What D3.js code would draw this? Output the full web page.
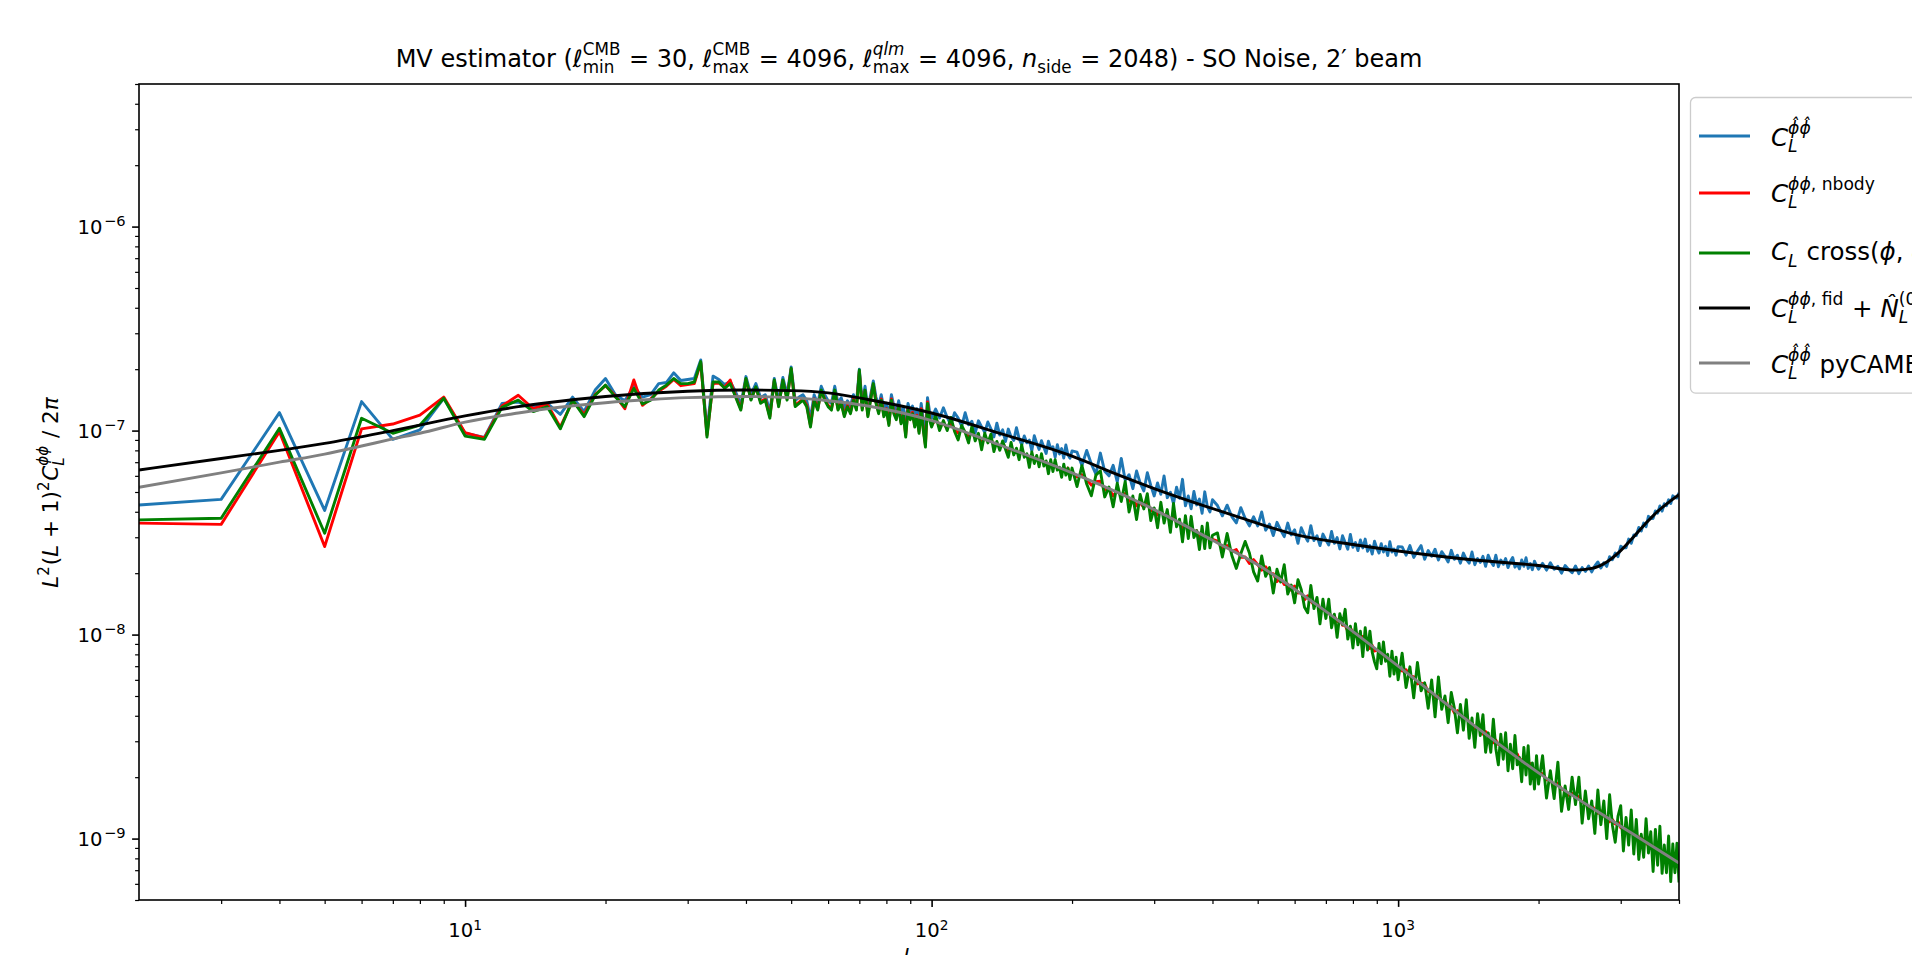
<!DOCTYPE html>
<html>
<head>
<meta charset="utf-8">
<script src="https://cdn.jsdelivr.net/npm/d3@7"></script>
<style>
  html, body { margin: 0; padding: 0; background: #ffffff; overflow: hidden; }
  svg { display: block; font-family: "DejaVu Sans", sans-serif; }
  svg text { white-space: pre; }
</style>
</head>
<body>
<svg id="chart" width="1912" height="955"></svg>
<script>
// Multipole sampling of the spectra: [first L, last L, step]
const ellSegments = [[2, 100, 1], [102, 200, 2], [205, 400, 5], [410, 1000, 10], [1020, 2000, 20], [2040, 4000, 40]];

// All spectra in units of 1e-9 for L^2 (L+1)^2 C_L / 2pi
const UNIT = 1e-9;

// Reconstructed auto-spectrum C_L^{phi-hat phi-hat}
const clHatAuto = [
  43.2, 46, 122.5, 40.6, 138.7, 90.6, 100.7, 144, 97, 92.7, 136, 138,
  130, 136, 120, 146, 124, 158, 180, 150, 140, 165,
  146, 150, 170, 172, 192, 176, 178, 180, 222, 100,
  185, 178, 168, 174, 155, 134, 184, 150, 170, 145,
  150, 124, 180, 140, 182, 150, 205, 140, 146, 150,
  140, 115, 150, 135, 165, 150, 140, 136, 165, 136,
  145, 128, 140, 132, 150, 136, 200, 136, 165, 128,
  150, 175, 146, 132, 150, 128, 136, 118, 150, 132,
  124, 140, 120, 130, 106, 136, 124, 132, 116, 128,
  110, 136, 113, 96, 145, 124, 115,
  127.6, 115.4, 129.3, 116, 106.6, 122.3, 115.2, 105, 122.3, 106.8, 111, 97.1, 111.7, 104.3, 98.1, 110.2, 102.1, 93.1, 108.8, 95.1,
  100.8, 88.4, 101.7, 93.3, 89.5, 103.3, 91.5, 85.2, 94.2, 87.1, 89.8, 79.6, 94.3, 86.6, 80.8, 89.3, 82.8, 77.2, 88.8, 81.6,
  83.4, 74, 85.3, 76.8, 81.7, 73.3, 85, 76.1, 73.2, 79.5,
  78.4, 67.4, 79.9, 68.6, 61.2, 77.6, 63.2, 60.0, 67.6, 56.0, 73.1, 57.1, 60.8, 51.9, 63.4, 55.2, 50.6, 62.2, 53.9, 47.8,
  55.4, 48.7, 60.0, 46.9, 49.8, 43.9, 52.8, 46.6, 57.7, 42.8, 47.8, 41.4, 50.3, 43.2, 46.2, 39.3, 50.1, 42.4, 39.9, 45.8,
  42.9, 38.2, 43.1, 37.9, 35.3, 41.9, 37.2, 34.1, 37.8, 34.1, 39.9, 32.5, 34.8, 30.6, 35.5, 32.5, 30.2, 35.2, 30.8, 32.6,
  28.0, 33.4, 30.7, 28.7, 34.2, 28.9, 30.5, 27.3, 31.1, 29.1, 27.5, 32.0, 28.0, 29.9, 26.3, 30.5, 28.3, 26.2, 31.0, 26.8,
  28.3, 25.8, 29.1, 26.6, 29.4, 25.6, 27.3, 24.8, 28.7, 26.5, 25.1, 27.9, 25.4, 27.1, 24.4, 28.5, 25.4, 26.3, 24.5, 27.0,
  26.9, 24.5, 27.3, 23.9, 25.6, 27.3, 23.4, 25.8, 24.2, 26.2, 23.2, 25.5, 24.2, 22.7, 25.9, 23.4, 24.5, 22.4, 25.1, 23.4,
  22.4, 25.4, 22.0, 23.6, 22.6, 24.2, 21.6, 24.5, 22.8, 21.8, 24.5, 21.5, 23.2, 22.1, 23.6, 21.3, 22.8, 23.9, 21.4, 22.2,
  21.0, 23.2, 21.6, 23.8, 21.1, 22.3, 20.8, 22.9, 21.8, 20.9,
  22.35, 20.7, 22.5, 20.9, 21.6, 20.0, 21.8, 20.85, 20.1, 21.7, 19.9, 21.3, 20.4, 21.7, 20.3, 21.7, 22.7, 21.2, 22.5, 21.6,
  24.1, 23.3, 25.1, 24.1, 27.1, 26.6, 26.6, 29.4, 28.0, 30.8, 30.6, 33.5, 32.2, 35.2, 33.8, 38.0, 37.2, 37.1, 40.4, 39.4,
  42.7, 40.3, 43.8, 42.8, 45.8, 43.9, 47.9, 46.9, 46.7, 49.5
];

// Input (N-body) lensing potential spectrum
const clInputNbody = [
  35.2, 34.7, 98.8, 27, 102, 107.7, 119, 146, 97.7, 92, 132, 149,
  128, 135, 104, 140, 120, 150, 166, 148, 128, 177,
  133, 143, 156, 165, 178, 166, 168, 170, 215, 95,
  170, 171, 163, 177, 148, 128, 178, 143, 162, 139,
  143, 117, 175, 133, 175, 143, 200, 133, 138, 143,
  133, 106, 143, 128, 156, 143, 133, 128, 156, 128,
  138, 119, 133, 123, 143, 128, 195, 128, 156, 119,
  143, 168, 138, 123, 143, 119, 128, 108, 143, 123,
  115, 133, 110, 121, 95, 128, 115, 123, 106, 119,
  99, 128, 102, 85, 138, 115, 106,
  113.3, 106.8, 108.1, 102.8, 108.2, 102, 97.4, 102, 98, 93.6, 98.4, 92.1, 93.9, 86.9, 92.3, 88.6, 91.5, 84.4, 86, 83.3,
  86.5, 82.2, 78.7, 82.6, 78.4, 79.8, 75.7, 80.6, 75.7, 75.5, 71.5, 75.7, 71.5, 73.4, 69.4, 73.3, 69.3, 69.7, 65.8, 69.4,
  65.7, 68.5, 65.3, 65.5, 63.1, 65.3, 62.2, 65.5, 60, 62.6,
  59.3, 60.8, 57.6, 54, 56.1, 56.5, 51, 51.9, 47.8, 50.8, 47.8, 49.2, 45, 46.4, 42.8, 44.2, 42.1, 44.4, 40.4, 41,
  38.6, 40.6, 38.3, 38.8, 36.2, 38.1, 35.3, 35.8, 33.1, 34.9, 33.3, 34, 31.5, 32.3, 30.1, 31.5, 29.8, 31.1, 28.6, 29.3,
  28.7, 26.5, 27.3, 25.5, 26.1, 23.9, 24, 22.3, 23.3, 22, 20.7, 21.5, 19.9, 19.9, 18.2, 19.1, 17.6, 17.7, 16.5, 17.3,
  16, 16.1, 14.8, 15.5, 14.6, 14, 14.5, 13.2, 13.4, 12.9, 13.1, 11.9, 12.3, 11.6, 12, 11.1, 11.1, 10.4, 10.8, 10.2,
  9.8, 10, 9.2, 9.8, 9.2, 9.1, 8.55, 8.85, 8.3, 8.45, 8.15, 7.7, 8.1, 7.6, 7.7, 7.2, 7.6, 7.05, 7.15, 6.95,
  6.62, 6.73, 6.25, 6.22, 5.73, 5.78, 5.72, 5.27, 5.21, 4.91, 5.01, 4.72, 4.78, 4.42, 4.43, 4.14, 4.24, 4.05, 3.86, 3.96,
  3.71, 3.70, 3.46, 3.55, 3.40, 3.25, 3.35, 3.15, 3.14, 2.95, 3.04, 2.89, 2.95, 2.74, 2.75, 2.63, 2.71, 2.64, 2.51, 2.60,
  2.45, 2.43, 2.32, 2.40, 2.29, 2.33, 2.18, 2.20, 2.12, 2.10,
  2.08, 1.94, 1.94, 1.81, 1.87, 1.75, 1.72, 1.63, 1.67, 1.57, 1.61, 1.50, 1.50, 1.41, 1.45, 1.39, 1.33, 1.37, 1.29, 1.28,
  1.21, 1.24, 1.18, 1.21, 1.13, 1.13, 1.08, 1.11, 1.06, 1.08, 1.01, 1.02, 0.96, 0.995, 0.96, 0.92, 0.95, 0.90, 0.90, 0.855,
  0.89, 0.845, 0.865, 0.815, 0.815, 0.775, 0.805, 0.77, 0.78, 0.745
];

// Cross-spectrum of input and reconstruction
const clCross = [
  36.5, 37.2, 102.6, 31.4, 114.9, 97, 106.4, 144, 94, 90.6, 130, 141,
  124, 131, 102, 141, 117, 149, 167, 146, 131, 161,
  135, 141, 158, 167, 180, 170, 170, 173, 218, 93,
  173, 173, 161, 170, 146, 126, 180, 141, 164, 136,
  141, 115, 177, 131, 177, 141, 202, 131, 136, 141,
  131, 104, 141, 126, 158, 141, 131, 126, 158, 126,
  136, 117, 131, 121, 141, 126, 198, 126, 158, 117,
  141, 170, 136, 121, 141, 117, 126, 106, 141, 121,
  113, 131, 108, 119, 93, 126, 113, 121, 104, 117,
  97, 126, 100, 83, 136, 113, 104,
  119, 100, 112, 100, 116, 99, 90, 106, 98, 87, 105, 89, 97, 80.5, 97, 87, 96, 79, 88.5, 80,
  89, 81, 74, 87.5, 76, 82, 72, 85, 74, 77, 66, 78.5, 69, 75.5, 66.5, 77, 67, 71, 61.5, 72,
  63, 72, 64, 66, 59, 68.5, 60.5, 65.5, 57.5, 65.5,
  53.2, 67.3, 54.7, 47.9, 60.5, 63.5, 47.3, 52.9, 42.3, 55.2, 44.9, 56.3, 39.9, 47.8, 36.6, 48.6, 41.3, 49.1, 36.2, 41.8,
  33.4, 44.5, 35.2, 41.0, 31.7, 43.9, 33.8, 36.8, 28.5, 38.3, 29.6, 38.0, 29.9, 32.3, 26.1, 34.0, 26.4, 35.3, 26.6, 30.7,
  31.5, 24.0, 31.3, 24.5, 21.1, 24.9, 28.6, 25.1, 20.3, 18.3, 24.3, 19.3, 21.3, 16.0, 20.9, 18.1, 22.0, 15.8, 17.5, 14.3,
  18.6, 16.6, 13.6, 12.8, 17.4, 13.4, 15.2, 11.3, 14.9, 12.0, 14.9, 10.8, 12.6, 9.7, 12.65, 11.2, 13.3, 9.5, 11.0, 8.6,
  11.3, 8.9, 10.4, 7.8, 10.8, 8.4, 10.4, 8.2, 7.35, 6.8, 9.05, 7.2, 9.2, 7.4, 8.0, 6.25, 8.3, 6.4, 7.75, 6.0,
  8.1, 5.5, 6.95, 4.9, 7.3, 5.3, 5.8, 4.35, 6.0, 3.95, 6.2, 4.3, 5.0, 3.7, 5.2, 4.35, 3.3, 4.55, 3.4, 4.8,
  3.1, 3.9, 2.8, 4.1, 3.2, 4.05, 2.65, 3.3, 2.65, 3.85, 2.75, 2.3, 3.25, 2.45, 3.3, 2.15, 2.9, 2.2, 3.2, 2.3,
  2.5, 1.9, 2.8, 2.05, 2.85, 1.85, 2.35, 1.75, 2.55, 1.85,
  2.55, 1.58, 2.15, 1.57, 2.37, 1.36, 1.81, 1.39, 2.0, 1.47, 2.0, 1.19, 1.71, 1.25, 1.53, 1.06, 1.73, 1.17, 1.53, 1.0,
  1.64, 1.16, 0.96, 1.29, 1.45, 0.87, 1.27, 0.93, 1.38, 0.84, 1.24, 0.79, 1.05, 0.81, 1.25, 0.85, 1.08, 0.69, 1.11, 0.74,
  1.15, 0.675, 0.93, 0.68, 1.03, 0.615, 0.94, 0.68, 0.95, 0.61
];

// Fiducial C_L^{phi phi} + N_L^(0)
const fidEll = [2, 3, 4, 5, 7, 10, 13, 15, 20, 30, 40, 50, 60, 73, 100, 140, 200, 252, 300, 452, 600, 812, 1000, 1459, 2000, 2400, 2600, 2800, 3000, 3200, 3400, 3600, 3800, 4000];
const fidPlusN0 = [64.1, 73, 80, 86.5, 100, 118, 131, 137, 147, 156, 158, 157, 153, 142, 122, 97, 75, 60.5, 52, 37.9, 31, 27.5, 25.7, 23.2, 21.8, 20.7, 21.1, 22.7, 25.8, 30.2, 35.2, 40.2, 44.5, 48.5];

// pyCAMB theory spectrum
const cambEll = [2, 3, 4, 5, 6, 7, 8, 10, 13, 15, 20, 25, 30, 40, 50, 60, 73, 100, 140, 200, 300, 400, 500, 700, 1000, 1500, 2000, 3000, 4000];
const cambTheory = [52.7, 62, 70, 76.7, 84, 91, 97, 110, 122, 128, 137, 142, 145, 147, 145, 140, 132, 112, 85, 62, 41, 29, 22, 13, 7.0, 3.4, 2.1, 1.15, 0.76];

// Axis ticks
const xMajorTicks = [10, 100, 1000];
const xTickExponents = ["1", "2", "3"];
const yMajorTicks = [1e-9, 1e-8, 1e-7, 1e-6];
const yTickExponents = ["\u22129", "\u22128", "\u22127", "\u22126"];

const seriesInfo = [
  { name: "hat", values: clHatAuto, color: "#1f77b4" },
  { name: "nbody", values: clInputNbody, color: "#ff0000" },
  { name: "cross", values: clCross, color: "#008000" }
];

// ---------------------------------------------------------------------------
const plot = { left: 139, right: 1679, top: 84, bottom: 900 };
const LW = 2.9;

const svg = d3.select("#chart");
const x = d3.scaleLog().domain([2, 4000]).range([plot.left, plot.right]);
const y = d3.scaleLog().domain([5e-10, 5e-6]).range([plot.bottom, plot.top]);

const ell = ellSegments.flatMap(([a, b, s]) => d3.range(a, b + s / 2, s));

svg.append("defs").append("clipPath").attr("id", "plotClip")
  .append("rect").attr("x", plot.left).attr("y", plot.top)
  .attr("width", plot.right - plot.left).attr("height", plot.bottom - plot.top);

const lines = svg.append("g").attr("clip-path", "url(#plotClip)");
const line = d3.line().x(d => x(d[0])).y(d => y(d[1]));
const smooth = d3.line().x(d => x(d[0])).y(d => y(d[1])).curve(d3.curveMonotoneX);

seriesInfo.forEach(s => {
  const n = Math.min(ell.length, s.values.length);
  const pts = d3.range(n).map(i => [ell[i], s.values[i] * UNIT]);
  lines.append("path").attr("d", line(pts)).attr("fill", "none")
    .attr("stroke", s.color).attr("stroke-width", LW).attr("stroke-linejoin", "round");
});

lines.append("path")
  .attr("d", smooth(fidEll.map((L, i) => [L, fidPlusN0[i] * UNIT])))
  .attr("fill", "none").attr("stroke", "#000000").attr("stroke-width", LW);
lines.append("path")
  .attr("d", smooth(cambEll.map((L, i) => [L, cambTheory[i] * UNIT])))
  .attr("fill", "none").attr("stroke", "#808080").attr("stroke-width", LW);

// ---------------------------------------------------------------------------
// Axes
const majorLen = 6.9, minorLen = 3.9;
const xMinor = [];
[1, 10, 100, 1000].forEach(p => d3.range(2, 10).forEach(k => { const v = k * p; if (v > 2 && v <= 4000) xMinor.push(v); }));
const yMinor = [];
[1e-10, 1e-9, 1e-8, 1e-7, 1e-6].forEach(p => d3.range(2, 10).forEach(k => { const v = k * p; if (v >= 5e-10 * 0.999 && v <= 5e-6 * 1.001) yMinor.push(v); }));

function styleAxis(g, w) {
  g.select(".domain").remove();
  g.selectAll(".tick line").attr("stroke", "#000").attr("stroke-width", w);
}
svg.append("g").attr("transform", `translate(0,${plot.bottom})`)
  .call(d3.axisBottom(x).tickValues(xMinor).tickSize(minorLen).tickSizeOuter(0).tickFormat(() => ""))
  .call(g => styleAxis(g, 1.2));
svg.append("g").attr("transform", `translate(0,${plot.bottom})`)
  .call(d3.axisBottom(x).tickValues(xMajorTicks).tickSize(majorLen).tickSizeOuter(0).tickFormat(() => ""))
  .call(g => styleAxis(g, 1.6));
svg.append("g").attr("transform", `translate(${plot.left},0)`)
  .call(d3.axisLeft(y).tickValues(yMinor).tickSize(minorLen).tickSizeOuter(0).tickFormat(() => ""))
  .call(g => styleAxis(g, 1.2));
svg.append("g").attr("transform", `translate(${plot.left},0)`)
  .call(d3.axisLeft(y).tickValues(yMajorTicks).tickSize(majorLen).tickSizeOuter(0).tickFormat(() => ""))
  .call(g => styleAxis(g, 1.6));

const TICK_FS = 19.6;
const xLabels = svg.append("g").attr("font-size", TICK_FS).attr("fill", "#000");
xMajorTicks.forEach((v, i) => {
  const t = xLabels.append("text").attr("x", x(v)).attr("y", 937).attr("text-anchor", "middle");
  t.append("tspan").text("10");
  t.append("tspan").attr("dy", -7).attr("font-size", TICK_FS * 0.7).text(xTickExponents[i]);
});
const yLabels = svg.append("g").attr("font-size", TICK_FS).attr("fill", "#000");
yMajorTicks.forEach((v, i) => {
  const t = yLabels.append("text").attr("x", plot.left - majorLen - 6.5).attr("y", y(v) + 7).attr("text-anchor", "end");
  t.append("tspan").text("10");
  t.append("tspan").attr("dx", 1.5).attr("dy", -8).attr("font-size", TICK_FS * 0.75).text(yTickExponents[i]);
});

// Frame
svg.append("rect").attr("x", plot.left).attr("y", plot.top)
  .attr("width", plot.right - plot.left).attr("height", plot.bottom - plot.top)
  .attr("fill", "none").attr("stroke", "#000").attr("stroke-width", 1.6);

// ---------------------------------------------------------------------------
// Small mathtext-like layout helper: runs with optional sub/superscripts
function mathText(parent, fs, tokens) {
  const g = parent.append("g").attr("fill", "#000");
  let cx = 0;
  const put = (t, it, size, xx, yy) => {
    const el = g.append("text").attr("x", xx).attr("y", yy).attr("font-size", size)
      .attr("font-style", it ? "italic" : "normal").text(t);
    return el.node().getComputedTextLength();
  };
  tokens.forEach(tok => {
    if (tok.t !== undefined) cx += put(tok.t, tok.it, fs, cx, 0);
    if (tok.sub || tok.sup) {
      const ss = fs * 0.7;
      const supRaise = tok.sub ? 0.48 : 0.40;
      let w = 0;
      if (tok.sub) {
        let sx = cx;
        tok.sub.forEach(r => { sx += put(r.t, r.it, ss, sx, fs * 0.27); });
        w = Math.max(w, sx - cx);
      }
      if (tok.sup) {
        let sx = cx;
        tok.sup.forEach(r => { sx += put(r.t, r.it, ss, sx, -fs * supRaise); });
        w = Math.max(w, sx - cx);
      }
      cx += w + fs * 0.04;
    }
  });
  return { g, width: cx };
}

const PHI = "\u03d5";
const PHIHAT = "\u03d5\u0302";

// Title
const TITLE_FS = 24;
const title = mathText(svg, TITLE_FS, [
  { t: "MV estimator (" },
  { t: "\u2113", it: true, sub: [{ t: "min" }], sup: [{ t: "CMB" }] },
  { t: " = 30, " },
  { t: "\u2113", it: true, sub: [{ t: "max" }], sup: [{ t: "CMB" }] },
  { t: " = 4096, " },
  { t: "\u2113", it: true, sub: [{ t: "max" }], sup: [{ t: "qlm", it: true }] },
  { t: " = 4096, " },
  { t: "n", it: true, sub: [{ t: "side" }] },
  { t: " = 2048) - SO Noise, 2\u2032 beam" }
]);
title.g.attr("transform", `translate(${(plot.left + plot.right) / 2 - title.width / 2},66.5)`);

// Y label, its box centred on the axes
const ylab = mathText(svg, 21.5, [
  { t: "L", it: true, sup: [{ t: "2" }] },
  { t: "(" }, { t: "L", it: true }, { t: " + 1)", sup: [{ t: "2" }] },
  { t: "C", it: true, sub: [{ t: "L", it: true }], sup: [{ t: PHI + PHI, it: true }] },
  { t: " / 2" }, { t: "\u03c0", it: true }
]);
const ylabBox = ylab.g.node().getBBox();
ylab.g.attr("transform",
  `translate(58,${(plot.top + plot.bottom) / 2 + ylabBox.x + ylabBox.width / 2}) rotate(-90)`);

// X label (falls mostly below the bottom edge)
svg.append("text").attr("x", (plot.left + plot.right) / 2).attr("y", 962)
  .attr("text-anchor", "middle").attr("font-size", TICK_FS).attr("font-style", "italic").text("L");

// ---------------------------------------------------------------------------
// Legend
const LEG_FS = 24.5;
const legendEntries = [
  { color: "#1f77b4", tokens: [{ t: "C", it: true, sub: [{ t: "L", it: true }], sup: [{ t: PHIHAT + PHIHAT, it: true }] }] },
  { color: "#ff0000", tokens: [{ t: "C", it: true, sub: [{ t: "L", it: true }], sup: [{ t: PHI + PHI, it: true }, { t: ", nbody" }] }] },
  { color: "#008000", tokens: [{ t: "C", it: true, sub: [{ t: "L", it: true }] }, { t: " cross(" }, { t: PHI, it: true }, { t: ", " }, { t: PHIHAT, it: true }, { t: ")" }] },
  { color: "#000000", tokens: [{ t: "C", it: true, sub: [{ t: "L", it: true }], sup: [{ t: PHI + PHI, it: true }, { t: ", fid" }] }, { t: " + " }, { t: "N\u0302", it: true, sub: [{ t: "L", it: true }], sup: [{ t: "(0)" }] }] },
  { color: "#808080", tokens: [{ t: "C", it: true, sub: [{ t: "L", it: true }], sup: [{ t: PHIHAT + PHIHAT, it: true }] }, { t: " pyCAMB" }] }
];
const legendRows = [136, 193, 253, 308, 363];
const legend = svg.append("g");
const legendFrame = legend.append("rect")
  .attr("x", 1690.5).attr("y", 97.5).attr("width", 400)
  .attr("rx", 5).attr("fill", "#ffffff").attr("fill-opacity", 0.8)
  .attr("stroke", "#cccccc").attr("stroke-width", 1.3);
let legendBottom = 0;
legendEntries.forEach((e, i) => {
  const yy = legendRows[i];
  legend.append("line").attr("x1", 1699).attr("x2", 1750).attr("y1", yy).attr("y2", yy)
    .attr("stroke", e.color).attr("stroke-width", LW);
  const m = mathText(legend, LEG_FS, e.tokens);
  const bb = m.g.node().getBBox();
  const dy = yy - (bb.y + bb.height / 2);
  m.g.attr("transform", `translate(1771,${dy})`);
  legendBottom = Math.max(legendBottom, bb.y + bb.height + dy);
});
legendFrame.attr("height", legendBottom + LEG_FS * 0.4 - 97.5);
</script>
</body>
</html>
